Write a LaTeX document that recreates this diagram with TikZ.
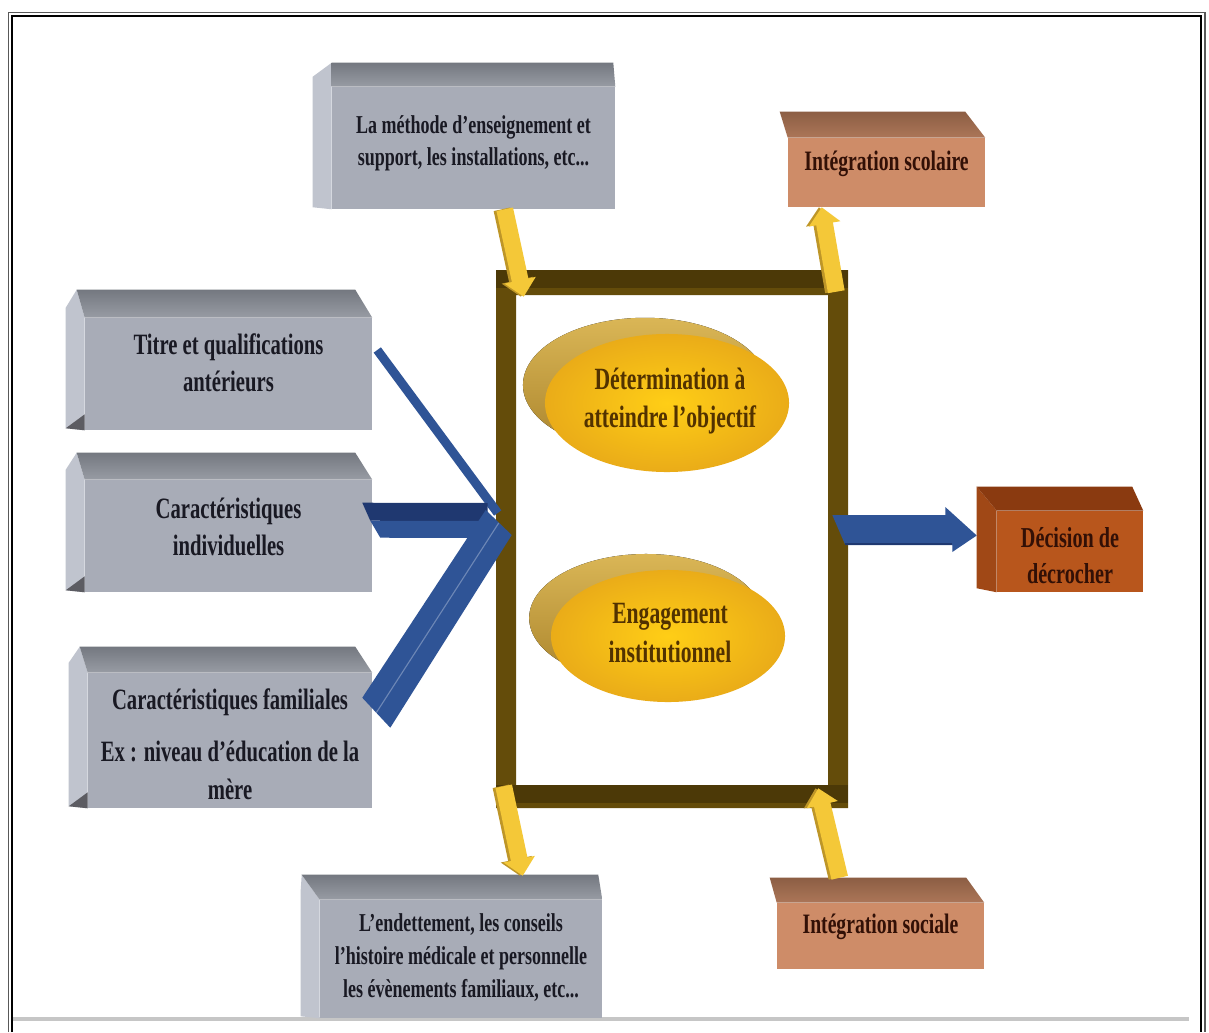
\documentclass[tikz,border=0pt]{standalone}
\usepackage{fontspec}
\setmainfont{Liberation Serif}[FakeStretch=0.7]
\usetikzlibrary{calc,fit,shapes.geometric,arrows.meta}
\definecolor{gfront}{RGB}{168,172,183}
\definecolor{gtopA}{RGB}{116,120,128}
\definecolor{gtopB}{RGB}{152,156,164}
\definecolor{gside}{RGB}{192,196,206}
\definecolor{gdark}{RGB}{92,92,98}
\definecolor{ofront}{RGB}{206,140,104}
\definecolor{otopA}{RGB}{140,94,68}
\definecolor{otopB}{RGB}{172,118,88}
\definecolor{dfront}{RGB}{184,86,28}
\definecolor{dtop}{RGB}{138,58,16}
\definecolor{dside}{RGB}{160,72,22}
\definecolor{blueA}{RGB}{47,84,150}
\definecolor{blueB}{RGB}{31,56,112}
\definecolor{frameC}{RGB}{100,76,10}
\definecolor{frameD}{RGB}{76,57,7}
\definecolor{goldA}{RGB}{244,200,56}
\definecolor{goldB}{RGB}{190,150,40}
\definecolor{ellIn}{RGB}{255,206,22}
\definecolor{ellOut}{RGB}{234,172,24}
\definecolor{backA}{RGB}{218,182,86}
\definecolor{backB}{RGB}{170,132,44}
\definecolor{txtG}{RGB}{25,25,35}
\definecolor{txtO}{RGB}{50,16,6}
\definecolor{txtE}{RGB}{82,50,0}
\newcommand\boxfaces[6]{%
  \path[#3] ($(#1.north west)+(-19,-10)$) -- ($(#1.north west)+(#5,-#4)$) -- (#1.north west) -- (#1.south west) -- ($(#1.south west)+(-19,-2)$) -- cycle;
  \path[#2] ($(#1.north west)+(#5,-#4)$) -- ($(#1.north east)+(#6,-#4)$) -- (#1.north east) -- (#1.north west) -- cycle;
}
\newcommand\darkcorner[1]{%
  \fill[gdark] ($(#1.south west)+(-19,-2)$) -- ($(#1.south west)+(0,-16)$) -- (#1.south west) -- cycle;
}
\newcommand\goldarrow[2]{%
  \draw[goldB, line width=12pt, -{Triangle[width=22pt,length=12pt]}, transform canvas={xshift=-2pt}] #1 -- #2;
  \draw[goldA, line width=12pt, -{Triangle[width=22pt,length=12pt]}] #1 -- #2;
}
\begin{document}
\begin{tikzpicture}[x=0.025cm,y=-0.025cm,
  shapebox/.style={inner sep=0pt},
  gtext/.style={inner sep=0pt, text=txtG, align=center, font=\bfseries\fontsize{21}{26}\selectfont},
  gsmall/.style={gtext, font=\bfseries\fontsize{18.3}{22.5}\selectfont},
  otext/.style={inner sep=0pt, text=txtO, align=center, font=\bfseries\fontsize{20}{25}\selectfont},
  dtext/.style={otext, font=\bfseries\fontsize{20.5}{26}\selectfont},
  ellnode/.style={ellipse, inner sep=0pt, inner color=ellIn, outer color=ellOut},
  etext/.style={inner sep=0pt, text=txtE, align=center, font=\bfseries\fontsize{22}{27.5}\selectfont},
  gtop/.style={top color=gtopA, bottom color=gtopB},
  gsidest/.style={fill=gside},
  otop/.style={top color=otopA, bottom color=otopB},
]
\useasboundingbox (0,0) rectangle (1209,1032);
\fill[white] (0,0) rectangle (1209,1032);
% outer frame
\draw[gray!70!black, line width=1.3pt] (8.5,1032) -- (8.5,12.5) -- (1205,12.5) -- (1205,1032);
\draw[black, line width=1.3pt] (12,1032) -- (12,16) -- (1201,16) -- (1201,1032);
\draw[gray!45, line width=2.2pt] (13,1019) -- (1189,1019);

% boxes
\node[shapebox, fill=gfront, fit={(332,87) (615,209)}] (meth) {};
\boxfaces{meth}{gtop}{gsidest}{24}{0}{-2}
\node[gsmall] (methT) at ($(meth.center)+(0,-5)$) {La méthode d’enseignement et\\support, les installations, etc...};

\node[shapebox, fill=gfront, fit={(85,318) (372,430)}] (titre) {};
\boxfaces{titre}{gtop}{gsidest}{28}{-8}{-17}
\darkcorner{titre}
\node[gtext] (titreT) at ($(titre.center)+(0,-11)$) {Titre et qualifications\\antérieurs};

\node[shapebox, fill=gfront, fit={(85,480) (372,592)}] (indiv) {};
\boxfaces{indiv}{gtop}{gsidest}{27}{-8}{-17}
\darkcorner{indiv}
\node[gtext] (indivT) at ($(indiv.center)+(0,-9)$) {Caractéristiques\\individuelles};

\node[shapebox, fill=gfront, fit={(88,673) (372,808)}] (famil) {};
\boxfaces{famil}{gtop}{gsidest}{26}{-8}{-17}
\darkcorner{famil}
\node[gtext, font=\bfseries\fontsize{21}{27}\selectfont] (familT) at ($(famil.center)+(0,4)$) {Caractéristiques familiales\\[10pt]Ex : niveau d’éducation de la\\mère};

\node[shapebox, fill=gfront, fit={(320,900) (602,1018)}] (endet) {};
\boxfaces{endet}{gtop}{gsidest}{25}{-18}{-4}
\node[gsmall, font=\bfseries\fontsize{18.3}{23.5}\selectfont] (endetT) at ($(endet.center)+(0,-1)$) {L’endettement, les conseils\\l’histoire médicale et personnelle\\les évènements familiaux, etc...};

\node[shapebox, fill=ofront, fit={(788,138) (985,207)}] (scol) {};
\boxfaces{scol}{otop}{}{26}{-8}{-20}
\node[otext] (scolT) at ($(scol.center)+(0,-9)$) {Intégration scolaire};

\node[shapebox, fill=ofront, fit={(777,903) (984,969)}] (soc) {};
\boxfaces{soc}{otop}{}{25}{-7}{-18}
\node[otext] (socT) at ($(soc.center)+(0,-9)$) {Intégration sociale};

\node[shapebox, fill=dfront, fit={(997,511) (1143,592)}] (dec) {};
\fill[dside] ($(dec.north west)+(-20,-24)$) -- (dec.north west) -- (dec.south west) -- ($(dec.south west)+(-20,-4)$) -- cycle;
\fill[dtop] ($(dec.north west)+(-20,-24)$) -- ($(dec.north east)+(-11,-24)$) -- (dec.north east) -- (dec.north west) -- cycle;
\node[dtext] (decT) at ($(dec.center)+(0,4)$) {Décision de\\décrocher};

% central frame
\node[fit={(496,270) (848,808)}, inner sep=0pt] (frame) {};
\fill[frameC, even odd rule] (496,270) rectangle (848,808) (516,295) rectangle (828,785);
\fill[frameD] (496,270) rectangle (848,288);
\fill[frameD] (496,785) rectangle (848,803);

% ellipses
\fill[top color=backA, bottom color=backB] (645,385) ellipse [x radius=3.05cm, y radius=1.68cm];
\node[ellnode, minimum width=6.1cm, minimum height=3.45cm] (e1) at (667,403) {};
\node[etext] (e1T) at ($(e1.center)+(3,-2)$) {Détermination à\\atteindre l’objectif};
\fill[top color=backA, bottom color=backB] (646,618) ellipse [x radius=2.92cm, y radius=1.6cm];
\node[ellnode, minimum width=5.85cm, minimum height=3.3cm] (e2) at (668,636) {};
\node[etext] (e2T) at ($(e2.center)+(2,-3)$) {Engagement\\institutionnel};

% gold arrows
\goldarrow{($(meth.south west)+(173,0)$)}{($(frame.north west)+(28,27)$)}
\goldarrow{($(frame.north east)+(-12,22)$)}{($(scol.south west)+(34,0)$)}
\goldarrow{($(frame.south west)+(8,-22)$)}{($(endet.north west)+(203,-24)$)}
\goldarrow{($(soc.north west)+(63,-25)$)}{($(frame.south east)+(-30,-20)$)}

% blue arrows
\draw[blueA, line width=6.4pt] ($(titre.east)+(5,-24)$) -- ($(frame.west)+(2,-26)$);
\fill[blueB] ($(indiv.north east)+(-10,23)$) -- ($(frame.west)+(-8,-36)$) -- ($(frame.west)+(-8,-18)$) -- ($(indiv.north east)+(-2,41)$) -- cycle;
\fill[blueA] ($(indiv.north east)+(-2,41)$) -- ($(frame.west)+(-8,-18)$) -- ($(frame.west)+(-8,-1)$) -- ($(indiv.north east)+(8,58)$) -- cycle;
\fill[blueA] ($(famil.north east)+(-10,25)$) -- ($(frame.west)+(-10,-29)$) -- ($(frame.west)+(16,-4)$) -- ($(famil.north east)+(18,55)$) -- cycle;
\draw[blueA!70!white, line width=0.8pt] ($(famil.north east)+(4,40)$) -- ($(frame.west)+(3,-16)$);
\fill[blueA] ($(frame.east)+(-16,-24)$) -- ($(frame.east)+(97,-24)$) -- ($(frame.east)+(97,-32)$) -- ($(dec.west)+(-20,-16)$) -- ($(frame.east)+(104,13)$) -- ($(frame.east)+(104,6)$) -- ($(frame.east)+(-3,6)$) -- cycle;
\draw[blueB, line width=1.2pt] ($(frame.east)+(-3,5)$) -- ($(frame.east)+(104,5)$);
\end{tikzpicture}
\end{document}
